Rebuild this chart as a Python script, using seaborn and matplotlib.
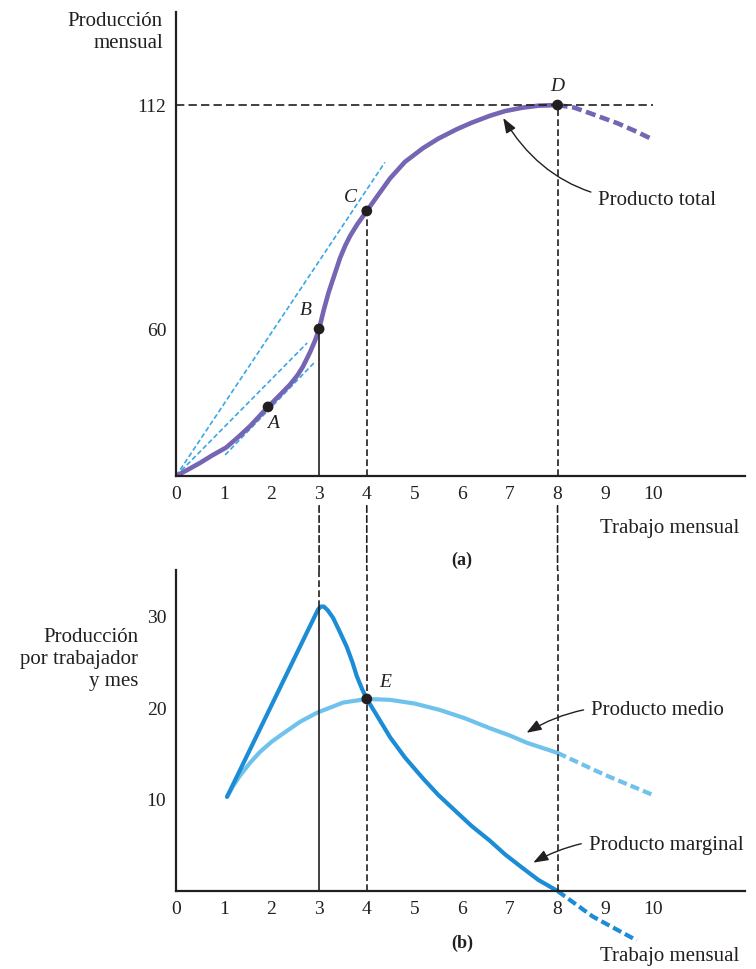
import numpy as np
import matplotlib
matplotlib.use("Agg")
import matplotlib.pyplot as plt
import matplotlib.transforms as mtransforms
from matplotlib.patches import ConnectionPatch
import seaborn as sns

# ---- data ----
# (a) total product, solid part and the dashed tail after D
tp_labor = [0, 0.25, 0.5, 0.75, 1.05, 1.3, 1.55, 1.93, 2.2, 2.39, 2.55, 2.66,
            2.81, 2.92, 3.0, 3.1, 3.2, 3.32, 3.44, 3.55, 3.65, 3.8, 4.0, 4.25,
            4.49, 4.8, 5.18, 5.5, 5.89, 6.2, 6.58, 6.9, 7.27, 7.6, 8.0]
tp_output = [0, 2.6, 5.3, 8.3, 11.6, 15.8, 20.3, 28.2, 33.5, 37.3, 41.2, 44.6,
             50.5, 55.5, 60, 64.5, 68.5, 72.5, 76.5, 79.4, 81.6, 84.3, 87.4, 91.3,
             95.0, 98.8, 102.0, 104.2, 106.4, 107.9, 109.5, 110.6, 111.4, 111.85, 112]
tp_tail_labor = [8.0, 8.35, 8.68, 9.0, 9.25, 9.6, 9.94]
tp_tail_output = [112, 111.4, 110.1, 108.8, 107.8, 106.1, 104.3]

# marked points on the total product curve
pt_names = ["A", "B", "C", "D"]
pt_labor = [1.93, 3.0, 4.0, 8.0]
pt_output = [28.2, 60, 87.4, 112]

# light blue dashed rays / tangent (start and end of each)
ray_x0 = [0, 0, 1.03]
ray_y0 = [0, 0, 8.6]
ray_x1 = [4.38, 2.75, 2.91]
ray_y1 = [98.7, 54.3, 46.5]

# (b) marginal product
mp_labor = [1.07, 2.98, 3.04, 3.1, 3.18, 3.29, 3.42, 3.58, 3.7, 3.79, 3.9, 4.0,
            4.2, 4.49, 4.8, 5.18, 5.5, 5.89, 6.2, 6.58, 6.9, 7.27, 7.6, 8.0]
mp_value = [10.3, 30.8, 31.1, 31.1, 30.7, 29.9, 28.5, 26.7, 25.0, 23.5, 22.1, 21.0,
            19.3, 16.8, 14.6, 12.3, 10.5, 8.6, 7.1, 5.5, 4.0, 2.5, 1.2, 0]
mp_tail_labor = [8.0, 8.74, 9.66]
mp_tail_value = [0, -2.8, -5.4]

# (b) average product
ap_labor = [1.07, 1.2, 1.34, 1.55, 1.76, 2.0, 2.24, 2.6, 2.96, 3.5, 4.0, 4.49,
            5.0, 5.53, 6.05, 6.58, 7.0, 7.36, 8.0]
ap_value = [10.3, 11.5, 12.6, 14.0, 15.2, 16.3, 17.2, 18.5, 19.5, 20.6, 21.0, 20.9,
            20.5, 19.8, 18.9, 17.8, 17.0, 16.2, 15.1]
ap_tail_labor = [8.0, 8.99, 10.0]
ap_tail_value = [15.1, 12.7, 10.5]

e_labor, e_value = 4.0, 21.0

x_ticks = list(range(0, 11))
top_yticks = [60, 112]
bot_yticks = [10, 20, 30]
guide_x = [3, 4, 8]

INK = "#231f20"
PURPLE = "#7565b3"
BLUE = "#1b8cd5"
LIGHT = "#6fc2ec"
RAY = "#3aa7e4"
FS = 15
TICK_FS = 14

# the upper axis of (a) is drawn stretched above 60
K = 1.758


def fwd(v):
    v = np.asarray(v, dtype=float)
    return np.where(v <= 60, v, 60 + (v - 60) * K)


def inv(u):
    u = np.asarray(u, dtype=float)
    return np.where(u <= 60, u, 60 + (u - 60) / K)


sns.set_theme(style="white")
plt.rcParams["font.family"] = ["Liberation Serif", "DejaVu Serif"]
plt.rcParams["text.color"] = INK

fig = plt.figure(figsize=(7.56, 9.69), dpi=100)
ax1 = fig.add_axes([176 / 756, 1 - 476 / 969, 569 / 756, 464 / 969])
ax2 = fig.add_axes([176 / 756, 1 - 891 / 969, 569 / 756, 321 / 969])
ax1.set_yscale("function", functions=(fwd, inv))

curve_kw = dict(sort=False, solid_joinstyle="round", solid_capstyle="round")
dash = (0, (2.2, 1.0))
guide = (0, (4, 2))

# ---- panel (a) ----
for x0, y0, x1, y1 in zip(ray_x0, ray_y0, ray_x1, ray_y1):
    ax1.plot([x0, x1], [y0, y1], color=RAY, lw=1.2, ls=(0, (3, 1.6)))

sns.lineplot(x=tp_labor, y=tp_output, ax=ax1, color=PURPLE, lw=3.3, **curve_kw)
sns.lineplot(x=tp_tail_labor, y=tp_tail_output, ax=ax1, color=PURPLE, lw=3.3,
             sort=False, linestyle=dash)

ax1.plot([0, x_ticks[-1]], [pt_output[3], pt_output[3]], color=INK, lw=1.2,
         ls=(0, (5, 2.5)))
ax1.plot([pt_labor[1], pt_labor[1]], [0, pt_output[1]], color=INK, lw=1.2)
ax1.plot([pt_labor[2], pt_labor[2]], [0, pt_output[2]], color=INK, lw=1.2, ls=guide)
ax1.plot([pt_labor[3], pt_labor[3]], [0, pt_output[3]], color=INK, lw=1.2, ls=guide)

sns.scatterplot(x=pt_labor, y=pt_output, ax=ax1, color=INK, s=60, zorder=5,
                edgecolor="none")
offsets = {"A": (3.5, -12), "B": (-9.5, 13), "C": (-11.5, 9.5), "D": (0, 13.5)}
for name, lx, ly in zip(pt_names, pt_labor, pt_output):
    ax1.annotate(name, (lx, ly), xytext=offsets[name], textcoords="offset points",
                 ha="center", va="center", fontsize=TICK_FS, fontstyle="italic")

ax1.annotate("Producto total", xy=(6.86, 109.0), xytext=(8.85, 89.9),
             ha="left", va="center", fontsize=FS,
             arrowprops=dict(arrowstyle="-|>,head_length=0.6,head_width=0.22",
                             color=INK, lw=1.0, shrinkA=3, shrinkB=0,
                             connectionstyle="arc3,rad=-0.3"))

ax1.set_xlim(0, 11.93)
ax1.set_ylim(0, 133.6)
ax1.set_xticks(x_ticks)
ax1.set_yticks(top_yticks)
ax1.set_yticklabels([str(v) for v in top_yticks])
ax1.minorticks_off()

# ---- panel (b) ----
sns.lineplot(x=ap_labor, y=ap_value, ax=ax2, color=LIGHT, lw=3.0, **curve_kw)
sns.lineplot(x=ap_tail_labor, y=ap_tail_value, ax=ax2, color=LIGHT, lw=3.0,
             sort=False, linestyle=dash)
sns.lineplot(x=mp_labor, y=mp_value, ax=ax2, color=BLUE, lw=3.0, **curve_kw)
sns.lineplot(x=mp_tail_labor, y=mp_tail_value, ax=ax2, color=BLUE, lw=3.0,
             sort=False, linestyle=dash, clip_on=False)

b_top = 35.1
ax2.plot([3, 3], [0, max(mp_value)], color=INK, lw=1.2)
ax2.plot([3, 3], [max(mp_value), b_top], color=INK, lw=1.2, ls=guide, clip_on=False)
for gx in guide_x[1:]:
    ax2.plot([gx, gx], [0, b_top], color=INK, lw=1.2, ls=guide, clip_on=False)

sns.scatterplot(x=[e_labor], y=[e_value], ax=ax2, color=INK, s=60, zorder=5,
                edgecolor="none")
ax2.annotate("E", (e_labor, e_value), xytext=(13, 11.5), textcoords="offset points",
             ha="center", va="center", fontsize=TICK_FS, fontstyle="italic")

arrow_kw = dict(arrowstyle="-|>,head_length=0.6,head_width=0.22", color=INK,
                lw=1.0, shrinkA=3, shrinkB=0, connectionstyle="arc3,rad=0.2")
ax2.annotate("Producto medio", xy=(7.35, 17.3), xytext=(8.7, 19.7),
             ha="left", va="center", fontsize=FS, arrowprops=arrow_kw)
ax2.annotate("Producto marginal", xy=(7.49, 3.1), xytext=(8.65, 5.0),
             ha="left", va="center", fontsize=FS, arrowprops=arrow_kw)

ax2.set_xlim(0, 11.93)
ax2.set_ylim(0, b_top)
ax2.set_xticks(x_ticks)
ax2.set_yticks(bot_yticks)

# dashed guides crossing the gap between the panels (starting under the tick labels)
gap_trans = mtransforms.blended_transform_factory(ax1.transData, ax1.transAxes)
for gx in guide_x:
    con = ConnectionPatch(xyA=(gx, -0.064), coordsA=gap_trans,
                          xyB=(gx, b_top), coordsB=ax2.transData,
                          color=INK, lw=1.2, ls=guide)
    fig.add_artist(con)

for ax in (ax1, ax2):
    sns.despine(ax=ax)
    for side in ("left", "bottom"):
        ax.spines[side].set_color(INK)
        ax.spines[side].set_linewidth(1.6)
    ax.tick_params(axis="both", direction="in", length=6, width=1.3, pad=7,
                   labelsize=TICK_FS, color=INK, labelcolor=INK)
    ax.set_xlabel("")
    ax.set_ylabel("")

fig.text(163 / 756, 1 - 12 / 969, "Producción\nmensual", ha="right", va="top",
         fontsize=FS, linespacing=1.25)
fig.text(138 / 756, 1 - 628 / 969, "Producción\npor trabajador\ny mes", ha="right",
         va="top", fontsize=FS, linespacing=1.2)
fig.text(670 / 756, 1 - 528 / 969, "Trabajo mensual", ha="center", va="center",
         fontsize=FS)
fig.text(670 / 756, 1 - 957 / 969, "Trabajo mensual", ha="center", va="center",
         fontsize=FS)
fig.text(462 / 756, 1 - 560 / 969, "(a)", ha="center", va="center", fontsize=13,
         fontweight="bold")
fig.text(462 / 756, 1 - 943 / 969, "(b)", ha="center", va="center", fontsize=13,
         fontweight="bold")

fig.savefig("out.png", dpi=100)
